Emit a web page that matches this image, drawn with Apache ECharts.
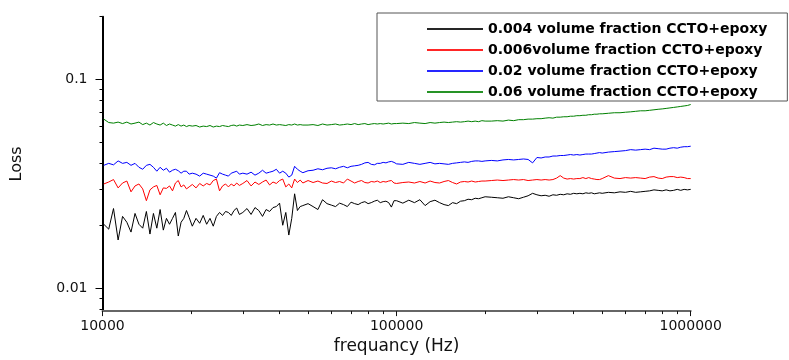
<!DOCTYPE html>
<html>
<head>
<meta charset="utf-8">
<script src="https://cdn.jsdelivr.net/npm/echarts@6/dist/echarts.min.js"></script>
<style>
  html, body { margin: 0; padding: 0; background: #fff; }
  #chart { width: 789px; height: 360px; }
</style>
</head>
<body>
<div id="chart"></div>
<script>
// frequency points (Hz), shared by all four samples
const freqHz = [
  10100, 10500, 10900, 11300, 11700, 12100, 12500, 12900, 13300, 13700, 14100, 14500, 14900,
  15300, 15700, 16100, 16500, 16900, 17300, 17700, 18100, 18500, 18900, 19300, 19700,
  20200, 20800, 21400, 22000, 22600, 23200, 23800, 24400, 25000, 25600, 26200, 26800, 27400,
  28000, 28600, 29200,
  30000, 31000, 32000, 33000, 34000, 35000, 36000, 37000, 38000, 39000, 40000, 41000, 42000,
  43000, 44000, 45000, 46000, 47000, 48000,
  50000, 52000, 54000, 56000, 58000, 60000, 62000, 64000, 66000, 68000, 70000, 72000, 74000,
  76000, 78000, 80000, 82000, 84000, 86000, 88000, 90000, 92000, 94000, 96000, 98000,
  100000, 105000, 110000, 115000, 120000, 125000, 130000, 135000, 140000, 145000, 150000,
  155000, 160000, 165000, 170000, 175000, 180000, 185000, 190000, 195000,
  200000, 210000, 220000, 230000, 240000, 250000, 260000, 270000, 280000, 290000, 300000,
  310000, 320000, 330000, 340000, 350000, 360000, 370000, 380000, 390000, 400000, 410000,
  420000, 430000, 440000, 450000, 460000, 470000, 480000, 490000,
  500000, 525000, 550000, 575000, 600000, 625000, 650000, 675000, 700000, 725000, 750000,
  775000, 800000, 825000, 850000, 875000, 900000, 925000, 950000, 975000, 1000000
];

// 0.004 volume fraction (black)
const loss004 = [
  0.02031, 0.01924, 0.02415, 0.01708, 0.02215, 0.02076, 0.01863, 0.02288, 0.02031, 0.01945,
  0.02338, 0.01823, 0.02288, 0.01945, 0.02389, 0.01904, 0.02167, 0.02031, 0.02167, 0.02313,
  0.01784, 0.02076, 0.02167, 0.02363, 0.02191,
  0.01988, 0.02167, 0.02053, 0.02239, 0.02031, 0.02167, 0.01988, 0.02215, 0.02313, 0.02239,
  0.02338, 0.02313, 0.02239, 0.02363, 0.02428, 0.02263,
  0.02313, 0.02415, 0.02263, 0.02441, 0.02363, 0.02215, 0.02389, 0.02338, 0.02441, 0.02468,
  0.02563, 0.02009, 0.02313, 0.01803, 0.02167, 0.02841, 0.02363, 0.02468, 0.02495,
  0.02549, 0.02468, 0.02389, 0.02662, 0.02549, 0.02508, 0.02468, 0.02563, 0.02522, 0.02468,
  0.02591, 0.02549, 0.02522, 0.02577, 0.02605, 0.02549, 0.02577, 0.02619, 0.02647, 0.02577,
  0.02605, 0.02619, 0.02577, 0.02454, 0.02633,
  0.02633, 0.02563, 0.02647, 0.02577, 0.02662, 0.02495, 0.02605, 0.02647, 0.02577, 0.02522,
  0.02495, 0.02577, 0.02549, 0.02619, 0.02633, 0.02676, 0.02662, 0.02705, 0.02691, 0.02720,
  0.02750, 0.02735, 0.02720, 0.02705, 0.02750, 0.02720, 0.02691, 0.02735, 0.02780, 0.02856,
  0.02810, 0.02780, 0.02795, 0.02765, 0.02810, 0.02795, 0.02825, 0.02810, 0.02841, 0.02825,
  0.02856, 0.02841, 0.02856, 0.02841, 0.02872, 0.02856, 0.02872, 0.02841, 0.02856, 0.02872,
  0.02856, 0.02887, 0.02872, 0.02903, 0.02887, 0.02919, 0.02887, 0.02903, 0.02919, 0.02935,
  0.02967, 0.02951, 0.02935, 0.02967, 0.02935, 0.02951, 0.02983, 0.02951, 0.02983, 0.02967,
  0.02983
];

// 0.006 volume fraction (red)
const loss006 = [
  0.03166, 0.03235, 0.03324, 0.03032, 0.03200, 0.03270, 0.02903, 0.03098, 0.03166, 0.02999,
  0.02633, 0.02967, 0.03065, 0.03115, 0.02810, 0.03032, 0.03015, 0.03098, 0.02935, 0.03200,
  0.03288, 0.03065, 0.03132, 0.02999, 0.03065,
  0.03149, 0.03032, 0.03183, 0.03098, 0.03183, 0.03132, 0.03288, 0.03342, 0.02935, 0.03098,
  0.03166, 0.03065, 0.03166, 0.03098, 0.03200, 0.03115,
  0.03183, 0.03288, 0.03098, 0.03235, 0.03149, 0.03235, 0.03306, 0.03132, 0.03235, 0.03183,
  0.03288, 0.03342, 0.03065, 0.03166, 0.03032, 0.03342, 0.03217, 0.03306, 0.03200,
  0.03288, 0.03217, 0.03270, 0.03200, 0.03183, 0.03270, 0.03217, 0.03253, 0.03200, 0.03342,
  0.03270, 0.03200, 0.03253, 0.03288, 0.03217, 0.03200, 0.03253, 0.03235, 0.03270, 0.03217,
  0.03253, 0.03235, 0.03270, 0.03288, 0.03200,
  0.03183, 0.03217, 0.03235, 0.03200, 0.03253, 0.03200, 0.03270, 0.03217, 0.03200, 0.03253,
  0.03288, 0.03217, 0.03166, 0.03235, 0.03253, 0.03235, 0.03270, 0.03235, 0.03253, 0.03270,
  0.03270, 0.03288, 0.03306, 0.03288, 0.03306, 0.03324, 0.03306, 0.03324, 0.03288, 0.03306,
  0.03324, 0.03306, 0.03324, 0.03306, 0.03324, 0.03378, 0.03471, 0.03378, 0.03342, 0.03360,
  0.03342, 0.03360, 0.03360, 0.03397, 0.03360, 0.03397, 0.03360, 0.03342, 0.03324, 0.03324,
  0.03360, 0.03471, 0.03378, 0.03360, 0.03397, 0.03378, 0.03397, 0.03378, 0.03360, 0.03415,
  0.03434, 0.03378, 0.03360, 0.03415, 0.03434, 0.03434, 0.03397, 0.03415, 0.03397, 0.03360,
  0.03360
];

// 0.02 volume fraction (blue)
const loss02 = [
  0.03888, 0.03973, 0.03909, 0.04082, 0.03973, 0.04016, 0.03888, 0.03973, 0.03805, 0.03723,
  0.03888, 0.03930, 0.03805, 0.03644, 0.03805, 0.03683, 0.03764, 0.03605, 0.03683, 0.03723,
  0.03663, 0.03566, 0.03644, 0.03644, 0.03528,
  0.03566, 0.03528, 0.03452, 0.03566, 0.03528, 0.03490, 0.03452, 0.03378, 0.03585, 0.03528,
  0.03490, 0.03452, 0.03566, 0.03605, 0.03644, 0.03528,
  0.03566, 0.03528, 0.03605, 0.03490, 0.03566, 0.03683, 0.03566, 0.03605, 0.03644, 0.03723,
  0.03566, 0.03644, 0.03566, 0.03415, 0.03490, 0.03846, 0.03723, 0.03644, 0.03585,
  0.03663, 0.03683, 0.03743, 0.03703, 0.03764, 0.03784, 0.03743, 0.03805, 0.03846, 0.03784,
  0.03846, 0.03867, 0.03888, 0.03930, 0.03994, 0.04016, 0.03930, 0.03909, 0.03973, 0.03973,
  0.04016, 0.03994, 0.04038, 0.04060, 0.04016,
  0.03951, 0.03930, 0.04016, 0.03973, 0.03930, 0.03973, 0.04016, 0.03951, 0.03973, 0.03951,
  0.03930, 0.03973, 0.03994, 0.04016, 0.04038, 0.04016, 0.04060, 0.04082, 0.04082, 0.04060,
  0.04082, 0.04104, 0.04082, 0.04126, 0.04148, 0.04126, 0.04148, 0.04170, 0.04148, 0.03994,
  0.04239, 0.04216, 0.04262, 0.04262, 0.04308, 0.04308, 0.04332, 0.04332, 0.04355, 0.04379,
  0.04355, 0.04379, 0.04355, 0.04379, 0.04402, 0.04402, 0.04402, 0.04426, 0.04450, 0.04474,
  0.04450, 0.04498, 0.04523, 0.04547, 0.04572, 0.04622, 0.04597, 0.04622, 0.04647, 0.04622,
  0.04697, 0.04672, 0.04647, 0.04647, 0.04697, 0.04723, 0.04697, 0.04748, 0.04774, 0.04774,
  0.04800
];

// 0.06 volume fraction (green)
const loss06 = [
  0.0647, 0.0623, 0.0619, 0.0626, 0.0616, 0.0626, 0.0613, 0.0619, 0.0626, 0.0609,
  0.0619, 0.0606, 0.0623, 0.0613, 0.0606, 0.0619, 0.0603, 0.0613, 0.0606, 0.0599,
  0.0609, 0.0599, 0.0606, 0.0596, 0.0603,
  0.0599, 0.0603, 0.0593, 0.0599, 0.0596, 0.0603, 0.0593, 0.0599, 0.0596, 0.0603,
  0.0599, 0.0596, 0.0603, 0.0606, 0.0599, 0.0606,
  0.0603, 0.0609, 0.0603, 0.0606, 0.0613, 0.0603, 0.0609, 0.0606, 0.0613, 0.0606,
  0.0609, 0.0606, 0.0603, 0.0609, 0.0606, 0.0613, 0.0606, 0.0609, 0.0606,
  0.0606, 0.0609, 0.0603, 0.0613, 0.0606, 0.0609, 0.0613, 0.0606, 0.0609, 0.0613,
  0.0609, 0.0616, 0.0609, 0.0613, 0.0616, 0.0609, 0.0613, 0.0616, 0.0613, 0.0616,
  0.0613, 0.0616, 0.0619, 0.0613, 0.0616,
  0.0616, 0.0619, 0.0616, 0.0623, 0.0619, 0.0616, 0.0623, 0.0619, 0.0623, 0.0626,
  0.0623, 0.0626, 0.0629, 0.0626, 0.0629, 0.0633, 0.0629, 0.0633, 0.0629, 0.0636,
  0.0633, 0.0633, 0.0636, 0.0633, 0.0640, 0.0636, 0.0643, 0.0643, 0.0647, 0.0647,
  0.0650, 0.0650, 0.0654, 0.0657, 0.0654, 0.0661, 0.0661, 0.0664, 0.0664, 0.0668,
  0.0668, 0.0672, 0.0672, 0.0675, 0.0675, 0.0679, 0.0679, 0.0683, 0.0683, 0.0686,
  0.0686, 0.0690, 0.0694, 0.0694, 0.0698, 0.0701, 0.0705, 0.0709, 0.0709, 0.0713,
  0.0717, 0.0721, 0.0724, 0.0728, 0.0732, 0.0736, 0.0740, 0.0744, 0.0748, 0.0752,
  0.0760
];

const seriesNames = [
  '0.004 volume fraction CCTO+epoxy',
  '0.006volume fraction CCTO+epoxy',
  '0.02 volume fraction CCTO+epoxy',
  '0.06 volume fraction CCTO+epoxy'
];
const seriesColors = ['#000000', '#ff0000', '#0000ff', '#008000'];
const seriesLoss = [loss004, loss006, loss02, loss06];

// tick values
const xMajorTicks = [10000, 100000, 1000000];
const xMinorTicks = [20000, 30000, 40000, 50000, 60000, 70000, 80000, 90000,
  200000, 300000, 400000, 500000, 600000, 700000, 800000, 900000];
const yMajorTicks = [0.01, 0.1];
const yMinorTicks = [0.008, 0.009, 0.02, 0.03, 0.04, 0.05, 0.06, 0.07, 0.08, 0.09, 0.2];

const FONT = 'DejaVu Sans';
const xMin = 10000, xMax = 1000000;
const yMin = 0.0078, yMax = 0.2;

const chart = echarts.init(document.getElementById('chart'), null, { renderer: 'canvas' });

chart.setOption({
  animation: false,
  backgroundColor: '#fff',
  color: seriesColors,
  grid: { left: 102.5, right: 98.3, top: 16.7, bottom: 44 },
  legend: {
    orient: 'vertical',
    left: 377,
    top: 13,
    padding: [9, 20, 2, 50],
    icon: 'rect',
    itemWidth: 56,
    itemHeight: 2,
    itemGap: 7,
    borderColor: '#555',
    borderWidth: 1,
    textStyle: { fontFamily: FONT, fontSize: 14, lineHeight: 14, fontWeight: 'bold', color: '#000' },
    data: seriesNames.map((name, k) => ({ name, itemStyle: { color: seriesColors[k], opacity: 0.85 } }))
  },
  xAxis: [
    {
      type: 'log', logBase: 10, min: xMin, max: xMax, position: 'bottom',
      name: 'frequancy (Hz)', nameLocation: 'middle', nameGap: 26,
      nameTextStyle: { fontFamily: FONT, fontSize: 17, color: '#111' },
      axisLine: { lineStyle: { color: '#666', width: 2 } },
      axisTick: { customValues: xMajorTicks, length: 5, lineStyle: { color: '#111' } },
      axisLabel: {
        customValues: xMajorTicks, margin: 8,
        fontFamily: FONT, fontSize: 14, color: '#111',
        formatter: (v) => String(Math.round(v))
      },
      splitLine: { show: false }
    },
    {
      type: 'log', logBase: 10, min: xMin, max: xMax, position: 'bottom',
      axisLine: { show: false },
      axisTick: { customValues: xMinorTicks, length: 3, lineStyle: { color: '#111' } },
      axisLabel: { show: false },
      splitLine: { show: false }
    }
  ],
  yAxis: [
    {
      type: 'log', logBase: 10, min: yMin, max: yMax, position: 'left',
      name: 'Loss', nameLocation: 'middle', nameGap: 78,
      nameTextStyle: { fontFamily: FONT, fontSize: 16, color: '#111' },
      axisLine: { lineStyle: { color: '#000', width: 2 } },
      axisTick: { customValues: yMajorTicks, length: 7, lineStyle: { color: '#000' } },
      axisLabel: {
        customValues: yMajorTicks, margin: 15,
        fontFamily: FONT, fontSize: 14, color: '#111',
        formatter: (v) => String(parseFloat(v.toPrecision(3)))
      },
      splitLine: { show: false }
    },
    {
      type: 'log', logBase: 10, min: yMin, max: yMax, position: 'left',
      axisLine: { show: false },
      axisTick: { customValues: yMinorTicks, length: 3, lineStyle: { color: '#000' } },
      axisLabel: { show: false },
      splitLine: { show: false }
    }
  ],
  series: seriesNames.map((name, k) => ({
    name,
    type: 'line',
    xAxisIndex: 0,
    yAxisIndex: 0,
    symbol: 'none',
    color: seriesColors[k],
    lineStyle: { width: 1, color: seriesColors[k] },
    itemStyle: { color: seriesColors[k] },
    data: freqHz.map((f, i) => [f, seriesLoss[k][i]])
  }))
});
</script>
</body>
</html>
